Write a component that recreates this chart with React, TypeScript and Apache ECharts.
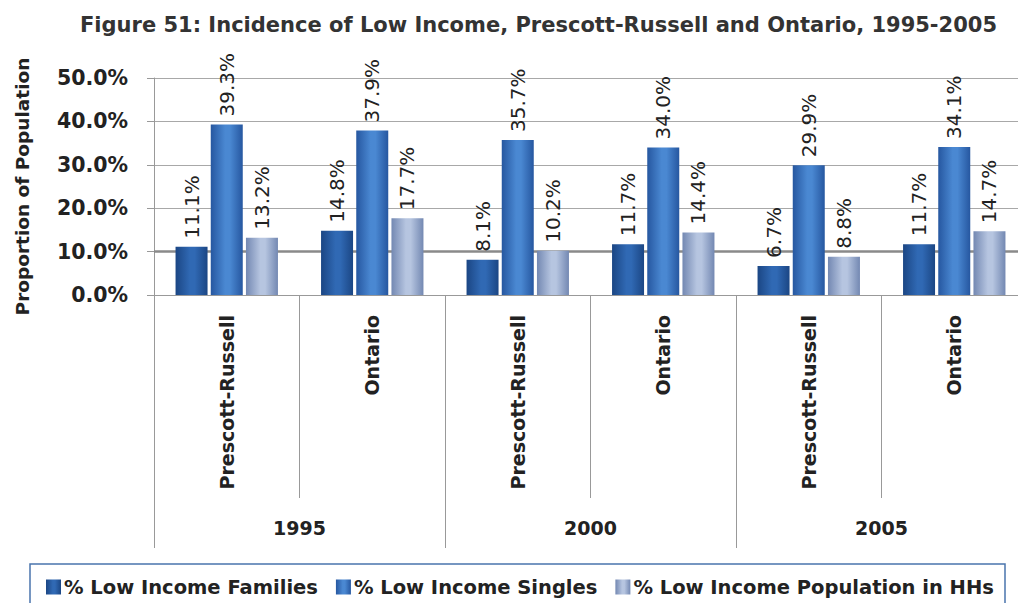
import React, { useEffect, useRef } from "react";
import * as echarts from "echarts";

const categories = ["Prescott-Russell", "Ontario", "Prescott-Russell", "Ontario", "Prescott-Russell", "Ontario"];
const years = ["1995", "2000", "2005"];
const families = [11.1, 14.8, 8.1, 11.7, 6.7, 11.7];
const singles = [39.3, 37.9, 35.7, 34.0, 29.9, 34.1];
const population = [13.2, 17.7, 10.2, 14.4, 8.8, 14.7];
const seriesNames = ["% Low Income Families", "% Low Income Singles", "% Low Income Population in HHs"];
const yTicks = [0, 10, 20, 30, 40, 50];

const FONT = "DejaVu Sans";

function grad(edge: string, mid: string) {
  return new echarts.graphic.LinearGradient(0, 0, 1, 0, [
    { offset: 0, color: edge },
    { offset: 0.45, color: mid },
    { offset: 0.6, color: mid },
    { offset: 1, color: edge },
  ]);
}

export default function App() {
  const ref = useRef<HTMLDivElement>(null);
  useEffect(() => {
    if (!ref.current) return;
    const chart = echarts.init(ref.current, null, { renderer: "svg" });
    const label = {
      show: true,
      position: "top",
      rotate: 90,
      align: "left",
      verticalAlign: "middle",
      distance: 8,
      fontFamily: FONT,
      fontSize: 20,
      color: "#222",
      formatter: (p: any) => Number(p.value).toFixed(1) + "%",
    };
    const colors = [
      grad("#1b4684", "#3069b4"),
      grad("#2657a0", "#4a88d2"),
      grad("#7388b2", "#b6c5e0"),
    ];
    const dataSets = [families, singles, population];
    const barSeries = dataSets.map((d, i) => ({
      name: seriesNames[i],
      type: "bar",
      xAxisIndex: 0,
      yAxisIndex: 0,
      data: d,
      barWidth: 32,
      barGap: "10%",
      z: 3,
      itemStyle: { color: colors[i] },
      label,
    }));
    chart.setOption({
      animation: false,
      backgroundColor: "#ffffff",
      title: {
        text: "Figure 51: Incidence of Low Income, Prescott-Russell and Ontario, 1995-2005",
        left: 80,
        top: 14,
        padding: 0,
        textStyle: { fontFamily: FONT, fontSize: 21, fontWeight: "bold", color: "#333" },
      },
      grid: { left: 154, top: 78, width: 873, height: 217, containLabel: false },
      legend: {
        left: 46,
        top: 577,
        padding: 0,
        itemWidth: 15,
        itemHeight: 15,
        itemGap: 18,
        icon: "rect",
        data: seriesNames,
        textStyle: { fontFamily: FONT, fontSize: 19.5, fontWeight: "bold", color: "#222", padding: [0, 0, 0, -2] },
      },
      graphic: [
        {
          type: "rect",
          shape: { x: 30, y: 564, width: 975, height: 60 },
          style: { fill: "none", stroke: "#4a74ad", lineWidth: 1.5 },
          silent: true,
        },
      ],
      xAxis: [
        {
          type: "category",
          data: categories,
          position: "bottom",
          axisLine: { show: true, lineStyle: { color: "#999", width: 1 } },
          axisTick: { show: true, interval: 0, length: 203, lineStyle: { color: "#999" } },
          axisLabel: {
            interval: 0,
            rotate: 90,
            margin: 20,
            fontFamily: FONT,
            fontSize: 19,
            fontWeight: "bold",
            color: "#222",
          },
          splitLine: { show: false },
        },
        {
          type: "category",
          data: years,
          position: "bottom",
          axisLine: { show: false },
          axisTick: { show: true, interval: 0, length: 253, lineStyle: { color: "#999" } },
          axisLabel: {
            interval: 0,
            margin: 223,
            fontFamily: FONT,
            fontSize: 19,
            fontWeight: "bold",
            color: "#222",
          },
          splitLine: { show: false },
        },
      ],
      yAxis: {
        type: "value",
        min: yTicks[0],
        max: yTicks[yTicks.length - 1],
        interval: 10,
        name: "Proportion of Population",
        nameLocation: "middle",
        nameRotate: 90,
        nameGap: 122,
        nameTextStyle: { fontFamily: FONT, fontSize: 18.5, fontWeight: "bold", color: "#222" },
        axisLine: { show: true, lineStyle: { color: "#999" } },
        axisTick: { show: true, length: 7, lineStyle: { color: "#999" } },
        axisLabel: {
          margin: 26,
          fontFamily: FONT,
          fontSize: 20.5,
          fontWeight: "bold",
          color: "#222",
          formatter: (v: number) => v.toFixed(1) + "%",
        },
        splitLine: { show: true, lineStyle: { color: "#a8a8a8", width: 1 } },
      },
      series: [
        {
          type: "line",
          data: [],
          z: 1,
          silent: true,
          markLine: {
            z: 1,
            silent: true,
            symbol: "none",
            label: { show: false },
            lineStyle: { color: "#8a8a8a", width: 2.5, type: "solid" },
            data: [{ yAxis: 10 }],
          },
        },
        ...barSeries,
      ],
    });
    return () => chart.dispose();
  }, []);
  return (
    <div
      style={{ position: "fixed", left: 0, top: 0, width: 1018, height: 603, overflow: "hidden", background: "#fff" }}
    >
      <div ref={ref} style={{ position: "absolute", left: 0, top: 0, width: 1040, height: 603 }} />
    </div>
  );
}
